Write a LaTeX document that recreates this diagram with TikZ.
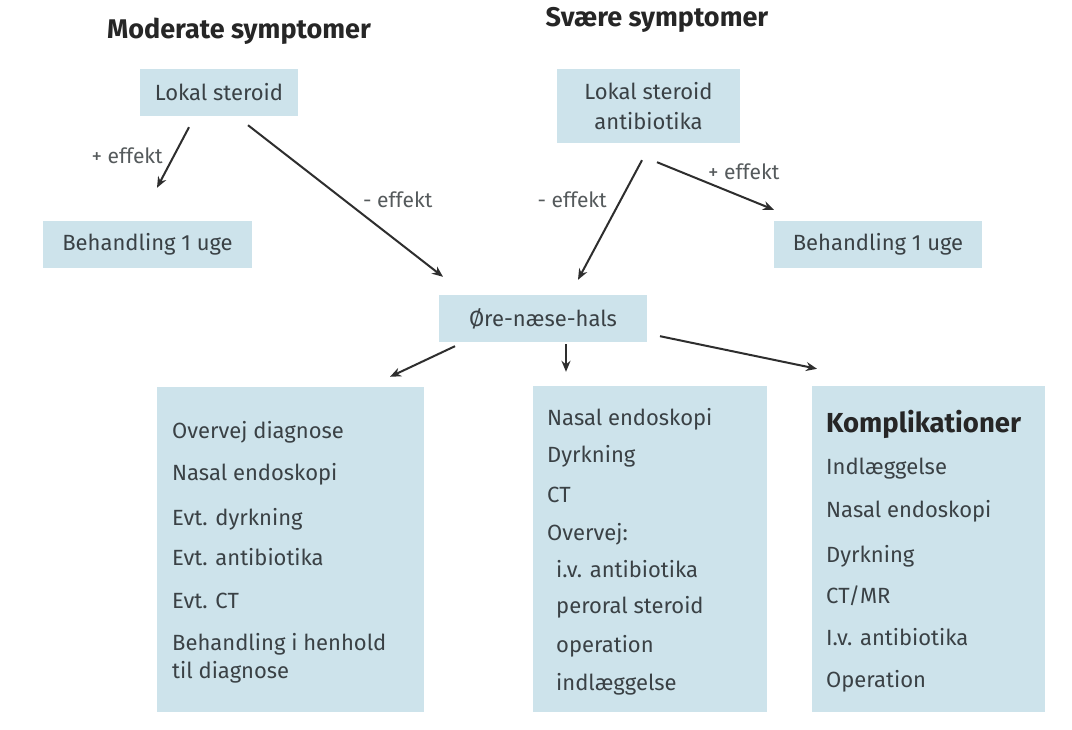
\documentclass[tikz,border=0pt]{standalone}
\usepackage{fontspec}
\setmainfont{Fira Sans}
\usetikzlibrary{arrows.meta}
\definecolor{boxblue}{HTML}{CDE3EB}
\definecolor{txtc}{HTML}{3A4145}
\definecolor{lblc}{HTML}{555A5C}
\definecolor{arrc}{HTML}{2E2E2E}
\newcommand\bxfont{\fontsize{22}{26}\selectfont}
\newcommand\lbfont{\fontsize{21}{24}\selectfont}
\newcommand\ttfont{\fontsize{27}{30}\selectfont\bfseries}
\newcommand\kpfont{\fontsize{27.5}{30}\selectfont\bfseries}
\begin{document}
\begin{tikzpicture}[x=1pt,y=-1pt,
  box/.style={rectangle, fill=boxblue, inner sep=0pt, text=txtc, font=\bxfont, align=center},
  item/.style={anchor=base west, inner sep=0pt, text=txtc, font=\bxfont},
  lbl/.style={inner sep=0pt, text=lblc, font=\lbfont},
  ttl/.style={anchor=base, inner sep=0pt, text=black!85, font=\ttfont},
  arr/.style={draw=arrc, line width=2pt, -{Stealth[length=11pt,width=9pt]}}]
\useasboundingbox (0,0) rectangle (1072,730);
\fill[white] (0,0) rectangle (1072,730);
% titles
\node[ttl] (t1) at (239,39) {Moderate symptomer};
\node[ttl] (t2) at (657,27) {Svære symptomer};
% top boxes
\node[box, minimum width=158pt, minimum height=47pt] (lsl) at (219,92.5) {Lokal steroid};
\node[box, minimum width=209pt, minimum height=47pt] (beh1) at (147.5,244.5) {Behandling 1 uge};
\node[box, minimum width=183pt, minimum height=74pt, text depth=0pt] (lsa) at (648.5,106) {Lokal steroid\\[4pt]antibiotika};
\node[box, minimum width=208pt, minimum height=47pt] (beh2) at (878,244.5) {Behandling 1 uge};
\node[box, minimum width=208pt, minimum height=47pt] (onh) at (543,318.5) {Øre-næse-hals};
% bottom boxes
\node[box, minimum width=267pt, minimum height=325pt] (bl) at (290.5,549.5) {};
\node[box, minimum width=234pt, minimum height=326pt] (bm) at (650,549) {};
\node[box, minimum width=233pt, minimum height=326pt] (br) at (928.5,549) {};
% left box items
\node[item] (l1) at (172,438) {Overvej diagnose};
\node[item] (l2) at (172,480) {Nasal endoskopi};
\node[item] (l3) at (172,525) {Evt. dyrkning};
\node[item] (l4) at (172,565) {Evt. antibiotika};
\node[item] (l5) at (172,608) {Evt. CT};
\node[item] (l6) at (172,650) {Behandling i henhold};
\node[item] (l7) at (172,678) {til diagnose};
% middle box items
\node[item] (m1) at (547,425) {Nasal endoskopi};
\node[item] (m2) at (547,462) {Dyrkning};
\node[item] (m3) at (547,502) {CT};
\node[item] (m4) at (547,540) {Overvej:};
\node[item] (m5) at (556,577) {i.v. antibiotika};
\node[item] (m6) at (556,613) {peroral steroid};
\node[item] (m7) at (556,652) {operation};
\node[item] (m8) at (556,690) {indlæggelse};
% right box items
\node[item, font=\kpfont, text=black!85] (r0) at (826,432) {Komplikationer};
\node[item] (r1) at (826,474) {Indlæggelse};
\node[item] (r2) at (826,517) {Nasal endoskopi};
\node[item] (r3) at (826,562) {Dyrkning};
\node[item] (r4) at (826,603) {CT/MR};
\node[item] (r5) at (826,645) {I.v. antibiotika};
\node[item] (r6) at (826,687) {Operation};
% arrows
\draw[arr] ([xshift=-30pt,yshift=-11pt]lsl.south) -- ([xshift=9.5pt,yshift=33pt]beh1.north);
\draw[arr] ([xshift=29pt,yshift=-9pt]lsl.south) -- ([xshift=-100pt,yshift=18pt]onh.north);
\draw[arr] ([xshift=-6.5pt,yshift=-17pt]lsa.south) -- ([xshift=35pt,yshift=15pt]onh.north);
\draw[arr] ([xshift=8.5pt,yshift=-19pt]lsa.south) -- ([xshift=-104pt,yshift=11pt]beh2.north);
\draw[arr] ([xshift=-88pt,yshift=-4pt]onh.south) -- ([xshift=99.5pt,yshift=10pt]bl.north);
\draw[arr] ([xshift=23pt,yshift=-2pt]onh.south) -- ([xshift=-84pt,yshift=14pt]bm.north);
\draw[arr] ([xshift=117pt,yshift=6pt]onh.south) -- ([xshift=-111.5pt,yshift=17pt]br.north);
% labels
\node[lbl, anchor=east] (p1) at (163,156) {+ effekt};
\node[lbl, anchor=west] (n1) at (363,200) {- effekt};
\node[lbl, anchor=east] (n2) at (607,200) {- effekt};
\node[lbl, anchor=west] (p2) at (708,172) {+ effekt};
\end{tikzpicture}
\end{document}
